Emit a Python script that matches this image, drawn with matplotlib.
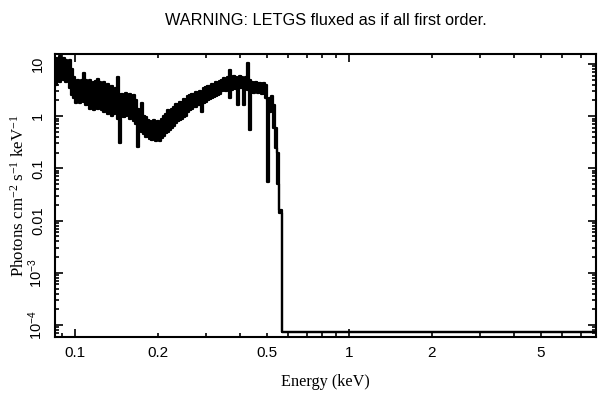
import matplotlib
matplotlib.use("Agg")
import matplotlib.pyplot as plt
from matplotlib.ticker import LogLocator, NullFormatter

plt.rcParams['font.family'] = ['Liberation Sans', 'DejaVu Sans']
plt.rcParams['mathtext.fontset'] = 'custom'
plt.rcParams['mathtext.rm'] = 'Liberation Serif'
plt.rcParams['mathtext.it'] = 'Liberation Serif:italic'
plt.rcParams['mathtext.sf'] = 'Liberation Sans'

# Energy bins (keV), left edges
energy = [0.0845, 0.0859, 0.0874, 0.0889, 0.0904, 0.0919, 0.0935, 0.0951, 0.0967, 0.0983,
          0.1000, 0.1017, 0.1034, 0.1052, 0.1070, 0.1088, 0.1106, 0.1125, 0.1144, 0.1163,
          0.1183, 0.1203, 0.1224, 0.1245, 0.1266, 0.1287, 0.1309, 0.1331, 0.1354, 0.1377,
          0.1400, 0.1424, 0.1448, 0.1473, 0.1498, 0.1523, 0.1549, 0.1575, 0.1602, 0.1629,
          0.1657, 0.1685, 0.1713, 0.1742, 0.1772, 0.1802, 0.1833, 0.1864, 0.1895, 0.1927,
          0.1960, 0.1993, 0.2027, 0.2062, 0.2097, 0.2132, 0.2168, 0.2205, 0.2242, 0.2280,
          0.2319, 0.2358, 0.2398, 0.2439, 0.2480, 0.2522, 0.2565, 0.2608, 0.2652, 0.2697,
          0.2743, 0.2789, 0.2837, 0.2885, 0.2934, 0.2983, 0.3034, 0.3085, 0.3137, 0.3191,
          0.3245, 0.3300, 0.3355, 0.3412, 0.3470, 0.3529, 0.3588, 0.3649, 0.3711, 0.3774,
          0.3838, 0.3903, 0.3969, 0.4036, 0.4105, 0.4174, 0.4245, 0.4317, 0.4390, 0.4464,
          0.4540, 0.4617, 0.4695, 0.4774, 0.4855, 0.4937, 0.5021, 0.5106, 0.5192, 0.5280,
          0.5370, 0.5461, 0.5553, 0.5647, 0.568, 8.0]

# Photons cm^-2 s^-1 keV^-1 : upper and lower edge of the 1-sigma band
flux_hi = [13, 12, 14, 11, 13, 12, 11, 12, 8, 5.5,
           4.5, 5.0, 4.0, 5.0, 6.7, 5.0, 4.5, 5.0, 4.2, 4.6,
           4.8, 5.2, 4.5, 4.0, 4.5, 3.8, 4.2, 3.5, 3.8, 3.2,
           3.5, 5.6, 2.5, 2.6, 2.3, 2.8, 2.4, 2.7, 2.2, 2.5,
           2.0, 1.4, 1.2, 1.8, 1.0, 0.95, 0.85, 0.8, 0.75, 0.85,
           0.7, 0.8, 0.75, 0.9, 1.0, 1.1, 1.3, 1.2, 1.4, 1.5,
           1.7, 1.6, 1.9, 1.8, 2.1, 2.0, 2.4, 2.5, 2.7, 2.6,
           2.9, 2.8, 3.0, 2.8, 3.4, 3.6, 3.8, 3.7, 4.2, 4.0,
           4.5, 4.3, 4.8, 5.0, 5.3, 5.0, 5.5, 7.5, 5.2, 5.8,
           5.5, 5.0, 6.0, 5.6, 5.0, 5.6, 10.5, 5.0, 4.6, 4.4,
           4.5, 4.3, 4.4, 4.2, 4.3, 4.0, 2.0, 2.2, 2.4, 1.6,
           0.6, 0.2, 0.016, 0.016, 7.4e-5, 7.4e-5]

flux_lo = [4.0, 5.5, 4.5, 6.0, 5.0, 4.5, 5.0, 3.5, 2.5, 2.2,
           1.8, 2.0, 1.8, 2.0, 1.9, 1.6, 1.7, 1.4, 1.6, 1.3,
           1.5, 1.4, 1.6, 1.3, 1.2, 1.3, 1.1, 1.2, 1.0, 1.1,
           1.2, 0.9, 0.31, 1.1, 0.95, 1.0, 1.1, 0.9, 1.0, 0.8,
           0.7, 0.26, 0.55, 0.5, 0.45, 0.4, 0.42, 0.36, 0.35, 0.38,
           0.34, 0.36, 0.33, 0.38, 0.42, 0.48, 0.5, 0.55, 0.6, 0.65,
           0.75, 0.8, 0.85, 0.9, 0.95, 1.0, 1.2, 1.3, 1.4, 1.5,
           1.5, 1.6, 1.6, 1.2, 1.8, 1.9, 2.0, 2.1, 2.2, 2.3,
           2.4, 2.5, 2.6, 3.0, 3.2, 3.0, 3.3, 2.2, 3.1, 3.4,
           3.3, 1.6, 3.5, 3.4, 1.6, 3.5, 3.2, 0.55, 2.9, 2.8,
           3.0, 2.8, 2.9, 2.7, 2.8, 2.2, 0.055, 1.2, 1.3, 0.6,
           0.25, 0.05, 0.014, 0.014, 7.4e-5, 7.4e-5]

x_ticks = [0.1, 0.2, 0.5, 1, 2, 5]
x_labels = ['0.1', '0.2', '0.5', '1', '2', '5']
y_ticks = [10, 1, 0.1, 0.01, 1e-3, 1e-4]
y_labels = ['10', '1', '0.1', '0.01', r'$\mathsf{10^{-3}}$', r'$\mathsf{10^{-4}}$']

fig = plt.figure(figsize=(6.09, 3.99), dpi=100)
ax = fig.add_axes([0.0903, 0.1554, 0.8884, 0.7093])

ax.fill_between(energy, flux_lo, flux_hi, step='post', color='black', lw=0)
ax.plot(energy, flux_hi, drawstyle='steps-post', color='black', lw=1.6)
ax.plot(energy, flux_lo, drawstyle='steps-post', color='black', lw=1.6)

ax.set_xscale('log')
ax.set_yscale('log')
ax.set_xlim(0.0845, 7.97)
ax.set_ylim(5.9e-5, 15.5)

for axis in (ax.xaxis, ax.yaxis):
    axis.set_major_locator(LogLocator(base=10, subs=(1.0,)))
    axis.set_major_formatter(NullFormatter())
    axis.set_minor_locator(LogLocator(base=10, subs=(2, 3, 4, 5, 6, 7, 8, 9)))
    axis.set_minor_formatter(NullFormatter())

ax.tick_params(which='both', direction='in', top=True, right=True, width=1.2,
               labelbottom=False, labelleft=False)
ax.tick_params(which='major', length=6)
ax.tick_params(which='minor', length=3)
for s in ax.spines.values():
    s.set_linewidth(1.5)

# tick labels
for xv, lab in zip(x_ticks, x_labels):
    ax.annotate(lab, (xv, 0), xycoords=('data', 'axes fraction'), xytext=(0, -6.5),
                textcoords='offset points', ha='center', va='top', fontsize=11)
for yv, lab in zip(y_ticks, y_labels):
    ax.annotate(lab, (0, yv), xycoords=('axes fraction', 'data'), xytext=(-7, 0),
                textcoords='offset points', ha='right', va='center', fontsize=10.5,
                rotation=90)

ax.set_xlabel('Energy (keV)', family='Liberation Serif', fontsize=11.7, labelpad=27)
ax.set_ylabel('Photons cm$^{-2}$ s$^{-1}$ keV$^{-1}$', family='Liberation Serif',
              fontsize=12.2, labelpad=20)
ax.set_title('WARNING: LETGS fluxed as if all first order.', fontsize=11.7, pad=21)

fig.savefig('out.png', dpi=100)
